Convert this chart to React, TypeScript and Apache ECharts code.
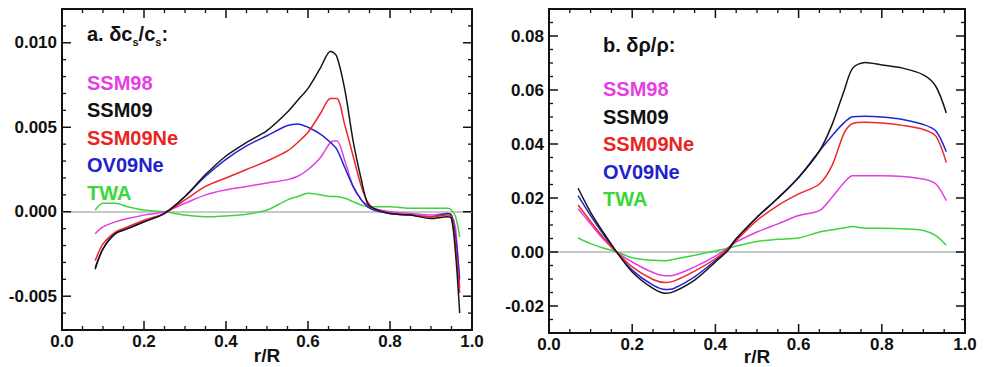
import React, { useEffect, useRef } from "react";
import * as echarts from "echarts";

// Panel a: delta c_s / c_s
const csR = [0.081, 0.1, 0.13, 0.16, 0.2, 0.25, 0.3, 0.35, 0.4, 0.45, 0.5, 0.55, 0.575, 0.6, 0.63, 0.655, 0.67, 0.69, 0.71, 0.73, 0.745, 0.76, 0.8, 0.85, 0.9, 0.94, 0.95, 0.96, 0.97];
const csSSM98 = [-0.0013, -0.0009, -0.0006, -0.0004, -0.0002, 0.0, 0.0005, 0.001, 0.0013, 0.0015, 0.0017, 0.0019, 0.0021, 0.0025, 0.0032, 0.0041, 0.0042, 0.003, 0.0015, 0.0007, 0.0004, 0.0002, 0.0, -0.0001, -0.0002, -0.0001, -0.0002, -0.001, -0.0045];
const csSSM09 = [-0.0034, -0.0022, -0.0013, -0.001, -0.0006, -0.0001, 0.0009, 0.0022, 0.0033, 0.0041, 0.0048, 0.0059, 0.0066, 0.0073, 0.0085, 0.0095, 0.0092, 0.0072, 0.0042, 0.0019, 0.0005, 0.0002, -0.0001, -0.0002, -0.0004, -0.0003, -0.0004, -0.0025, -0.006];
const csSSM09Ne = [-0.0029, -0.0019, -0.0012, -0.0009, -0.0005, -0.0001, 0.0007, 0.0015, 0.002, 0.0025, 0.003, 0.0036, 0.0041, 0.0047, 0.0058, 0.0067, 0.0067, 0.0051, 0.0033, 0.0015, 0.0006, 0.0002, -0.0001, -0.0002, -0.0003, -0.0002, -0.0003, -0.002, -0.0048];
const csOV09Ne = [-0.0033, -0.0022, -0.0013, -0.001, -0.0006, -0.0001, 0.0009, 0.0021, 0.0031, 0.0039, 0.0045, 0.0051, 0.0052, 0.005, 0.0046, 0.0041, 0.0037, 0.0026, 0.0015, 0.0007, 0.0003, 0.0001, -0.0001, -0.0002, -0.0003, -0.0001, -0.0002, -0.0015, -0.004];
const csTWA = [0.0001, 0.0005, 0.0005, 0.0003, 0.0001, 0.0, -0.0002, -0.0003, -0.00025, -0.00015, 0.0001, 0.0007, 0.0009, 0.0011, 0.001, 0.0009, 0.0009, 0.0008, 0.0006, 0.0004, 0.0003, 0.0003, 0.0003, 0.0002, 0.0002, 0.0002, 0.0001, -0.0003, -0.0015];

// Panel b: delta rho / rho
const rhoR = [0.07, 0.1, 0.13, 0.16, 0.2, 0.25, 0.28, 0.3, 0.35, 0.4, 0.43, 0.45, 0.5, 0.55, 0.6, 0.65, 0.68, 0.71, 0.73, 0.76, 0.8, 0.85, 0.9, 0.93, 0.955];
const rhoSSM98 = [0.016, 0.0104, 0.0049, 0.0003, -0.0037, -0.0076, -0.0088, -0.0086, -0.0055, -0.0015, 0.0015, 0.0037, 0.0074, 0.0104, 0.0135, 0.0153, 0.0202, 0.0258, 0.0282, 0.0282, 0.0282, 0.028, 0.027, 0.0252, 0.019];
const rhoSSM09 = [0.0236, 0.0147, 0.0074, 0.0006, -0.0074, -0.0135, -0.0153, -0.0147, -0.0104, -0.0037, 0.0006, 0.0049, 0.0129, 0.0199, 0.0276, 0.0374, 0.047, 0.06, 0.0681, 0.0702, 0.0693, 0.0681, 0.0656, 0.0613, 0.0515];
const rhoSSM09Ne = [0.0174, 0.0113, 0.0055, 0.0004, -0.0055, -0.0102, -0.0113, -0.0108, -0.0071, -0.0025, 0.0012, 0.0043, 0.0117, 0.0172, 0.0215, 0.0252, 0.0319, 0.0442, 0.0476, 0.0481, 0.0478, 0.0469, 0.0454, 0.0429, 0.0331];
const rhoOV09Ne = [0.0209, 0.0135, 0.0067, 0.0004, -0.0067, -0.0123, -0.0139, -0.0135, -0.0092, -0.0031, 0.0012, 0.0049, 0.0129, 0.0199, 0.0276, 0.0374, 0.043, 0.048, 0.0501, 0.0503, 0.05, 0.0491, 0.0472, 0.0448, 0.0371];
const rhoTWA = [0.0052, 0.0031, 0.0015, 0.0002, -0.0021, -0.0031, -0.0032, -0.0027, -0.0012, 0.0004, 0.0014, 0.0022, 0.0039, 0.0047, 0.0052, 0.0074, 0.0082, 0.009, 0.0094, 0.0088, 0.0088, 0.0086, 0.008, 0.0061, 0.0025];

const modelNames = ["SSM98", "SSM09", "SSM09Ne", "OV09Ne", "TWA"];
const lineColors = ["#e23ee2", "#161616", "#ec2828", "#2424d4", "#3fd43f"];
const textColors = ["#e43fe4", "#111111", "#ea2424", "#2222cc", "#3ad83a"];

// Axis settings (tick labels)
const xTicks = [0, 0.2, 0.4, 0.6, 0.8, 1.0];
const csYTicks = [-0.005, 0.0, 0.005, 0.01];
const rhoYTicks = [-0.02, 0.0, 0.02, 0.04, 0.06, 0.08];

const FONT = "'Liberation Sans', Arial, Helvetica, sans-serif";

export default function App() {
  const ref = useRef<HTMLDivElement>(null);
  useEffect(() => {
    if (!ref.current) return;
    const chart = echarts.init(ref.current, null, { renderer: "svg" });

    const ink = "#111";
    const MAJ = 9;
    const MIN = 4;

    const panels = [
      { r: csR, s: [csSSM98, csSSM09, csSSM09Ne, csOV09Ne, csTWA], yMin: -0.007, yMax: 0.012, yTicks: csYTicks, ySub: 5, dec: 3 },
      { r: rhoR, s: [rhoSSM98, rhoSSM09, rhoSSM09Ne, rhoOV09Ne, rhoTWA], yMin: -0.03, yMax: 0.09, yTicks: rhoYTicks, ySub: 4, dec: 2 },
    ];
    const xMin = xTicks[0];
    const xMax = xTicks[xTicks.length - 1];
    const xStep = xTicks[1] - xTicks[0];

    const xAxes = panels.map((p, g) => ({
      type: "value",
      gridIndex: g,
      position: "bottom",
      min: xMin,
      max: xMax,
      interval: xStep,
      axisLine: { show: false },
      axisTick: { show: false },
      splitLine: { show: false },
      axisLabel: { fontFamily: FONT, fontWeight: "bold", fontSize: 17, color: ink, margin: 3, formatter: (v: number) => v.toFixed(1) },
    }));

    const yAxes = panels.map((p, g) => {
      const step = p.yTicks[1] - p.yTicks[0];
      return {
        type: "value",
        gridIndex: g,
        position: "left",
        min: p.yMin,
        max: p.yMax,
        splitNumber: Math.round((p.yMax - p.yMin) / step),
        axisLine: { show: false },
        axisTick: { show: false },
        splitLine: { show: false },
        axisLabel: {
          fontFamily: FONT,
          fontWeight: "bold",
          fontSize: 17,
          color: ink,
          margin: 5,
          formatter: (v: number) => (Math.abs(v / step - Math.round(v / step)) > 1e-6 ? "" : v.toFixed(p.dec)),
        },
      };
    });

    const drawOrder = [4, 0, 3, 2, 1];
    const series: any[] = [];
    panels.forEach((p, g) => {
      drawOrder.forEach((k, j) => {
        series.push({
          type: "line",
          name: modelNames[k] + (g === 0 ? " a" : " b"),
          xAxisIndex: g,
          yAxisIndex: g,
          data: p.r.map((x, i) => [x, p.s[k][i]]),
          showSymbol: false,
          smooth: 0.3,
          lineStyle: { color: lineColors[k], width: 1.5 },
          z: 3 + j,
          ...(j === 0
            ? {
                markLine: {
                  silent: true,
                  symbol: ["none", "none"],
                  label: { show: false },
                  lineStyle: { color: "#c8c8c8", width: 2, type: "solid" },
                  data: [{ yAxis: 0 }],
                  z: 1,
                },
              }
            : {}),
        });
      });
    });

    const legendTexts = (x: number, y0: number, step: number) =>
      modelNames.map((n, i) => ({
        type: "text",
        x,
        y: y0 + i * step,
        style: { text: n, fill: textColors[i], fontFamily: FONT, fontWeight: "bold", fontSize: 20, verticalAlign: "middle" },
      }));

    const rich = {
      m: { fontFamily: FONT, fontWeight: "bold", fontSize: 20, fill: ink, lineHeight: 26, verticalAlign: "middle" },
      s: { fontFamily: FONT, fontWeight: "bold", fontSize: 11, fill: ink, lineHeight: 11, verticalAlign: "bottom" },
    };

    const axisTitle = (x: number, y: number) => ({
      type: "text",
      x,
      y,
      style: { text: "r/R", fill: ink, fontFamily: FONT, fontWeight: "bold", fontSize: 19, align: "center", verticalAlign: "middle" },
    });

    const texts: any[] = [
      {
        type: "text",
        x: 87,
        y: 34,
        style: { text: "{m|a. δc}{s|s}{m|/c}{s|s}{m|:}", rich, verticalAlign: "middle" },
      },
      {
        type: "text",
        x: 603,
        y: 45,
        style: { text: "b. δρ/ρ:", fill: ink, fontFamily: FONT, fontWeight: "bold", fontSize: 20, verticalAlign: "middle" },
      },
      ...legendTexts(87, 83, 27.4),
      ...legendTexts(603, 89, 27.5),
      axisTitle(267, 355),
      axisTitle(757, 356),
    ];

    chart.setOption({
      animation: false,
      backgroundColor: "#ffffff",
      grid: [
        { left: 62, top: 9, width: 410, height: 321, outerBoundsMode: "none", containLabel: false, show: true, borderColor: ink, borderWidth: 2, backgroundColor: "transparent" },
        { left: 549, top: 9, width: 416, height: 324, outerBoundsMode: "none", containLabel: false, show: true, borderColor: ink, borderWidth: 2, backgroundColor: "transparent" },
      ],
      xAxis: xAxes,
      yAxis: yAxes,
      series,
      graphic: texts,
    } as any);

    // Inward ticks on all four sides, positioned through the chart's own scales
    try {
      const ticks: any[] = [];
      const seg = (x1: number, y1: number, x2: number, y2: number, major: boolean) => ({
        type: "line",
        silent: true,
        z: 50,
        shape: { x1, y1, x2, y2 },
        style: { stroke: ink, lineWidth: major ? 1.5 : 1.3 },
      });
      panels.forEach((p, g) => {
        const px = (v: number[]) => chart.convertToPixel({ gridIndex: g } as any, v) as any as number[];
        const xMinorStep = xStep / 4;
        for (let k = 0; k <= Math.round((xMax - xMin) / xMinorStep); k++) {
          const v = xMin + k * xMinorStep;
          const major = k % 4 === 0;
          const len = major ? MAJ : MIN;
          const b = px([v, p.yMin]);
          const t = px([v, p.yMax]);
          if (!b || !t) continue;
          ticks.push(seg(b[0], b[1], b[0], b[1] - len, major));
          ticks.push(seg(t[0], t[1], t[0], t[1] + len, major));
        }
        const yStep = p.yTicks[1] - p.yTicks[0];
        const yMinorStep = yStep / p.ySub;
        const k0 = Math.ceil(p.yMin / yMinorStep - 1e-6);
        const k1 = Math.floor(p.yMax / yMinorStep + 1e-6);
        for (let k = k0; k <= k1; k++) {
          const v = k * yMinorStep;
          if (v <= p.yMin + 1e-9 || v >= p.yMax - 1e-9) continue;
          const major = Math.abs(v / yStep - Math.round(v / yStep)) < 1e-6;
          const len = major ? MAJ : MIN;
          const l = px([xMin, v]);
          const r = px([xMax, v]);
          if (!l || !r) continue;
          ticks.push(seg(l[0], l[1], l[0] + len, l[1], major));
          ticks.push(seg(r[0], r[1], r[0] - len, r[1], major));
        }
      });
      chart.setOption({ graphic: [...texts, ...ticks] } as any);
    } catch (e) {
      // keep the chart without ticks if conversion fails
    }

    return () => chart.dispose();
  }, []);

  return <div ref={ref} style={{ position: "fixed", left: 0, top: 0, width: 988, height: 367 }} />;
}
